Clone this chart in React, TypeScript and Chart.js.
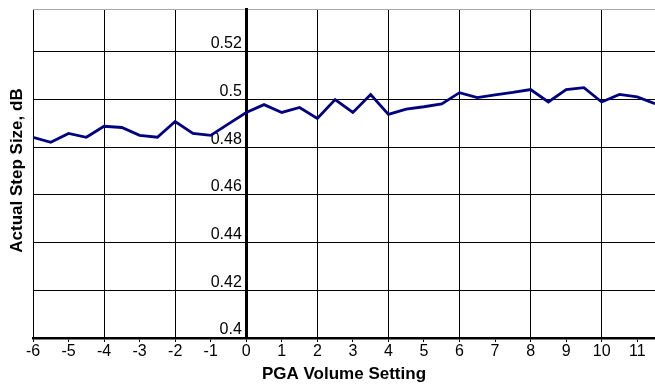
import React, { useEffect, useRef } from "react";
import { Chart, registerables } from "chart.js";

Chart.register(...registerables);

const volumeSettings = [
  -6, -5.5, -5, -4.5, -4, -3.5, -3, -2.5, -2, -1.5, -1, -0.5, 0, 0.5, 1, 1.5, 2, 2.5,
  3, 3.5, 4, 4.5, 5, 5.5, 6, 6.5, 7, 7.5, 8, 8.5, 9, 9.5, 10, 10.5, 11, 11.5,
];
const stepSizes = [
  0.4842, 0.4821, 0.4858, 0.4842, 0.4888, 0.4883, 0.485, 0.4842, 0.4908, 0.4858, 0.485, 0.4898,
  0.4946, 0.4979, 0.4946, 0.4967, 0.4921, 0.5, 0.4946, 0.5021, 0.4938, 0.496, 0.497, 0.4982,
  0.5029, 0.5008, 0.502, 0.503, 0.5042, 0.499, 0.5042, 0.505, 0.499, 0.5022, 0.5011, 0.4983,
];
const xTicks = [-6, -5, -4, -3, -2, -1, 0, 1, 2, 3, 4, 5, 6, 7, 8, 9, 10, 11];
const yTicks = [0.4, 0.42, 0.44, 0.46, 0.48, 0.5, 0.52];
const X_MIN = -6;
const X_MAX = 11.5;
const Y_MIN = 0.4;
const Y_MAX = 0.538;
const xTitle = "PGA Volume Setting";
const yTitle = "Actual Step Size, dB";

const FONT = "'Liberation Sans', Arial, sans-serif";

const yTitlePlugin = {
  id: "yTitlePlugin",
  afterDraw(chart: any) {
    const { ctx, chartArea } = chart;
    ctx.save();
    ctx.font = `bold 17px ${FONT}`;
    ctx.fillStyle = "#000";
    ctx.textAlign = "center";
    ctx.textBaseline = "middle";
    ctx.translate(17, (chartArea.top + chartArea.bottom) / 2 - 3);
    ctx.rotate(-Math.PI / 2);
    ctx.fillText(yTitle, 0, 0);
    ctx.restore();
  },
};

export default function App() {
  const ref = useRef<HTMLCanvasElement | null>(null);
  useEffect(() => {
    if (!ref.current) return;
    Chart.defaults.font.family = FONT;
    const chart = new Chart(ref.current, {
      type: "line",
      data: {
        datasets: [
          {
            data: volumeSettings.map((x, i) => ({ x, y: stepSizes[i] })),
            borderColor: "#000080",
            borderWidth: 2.8,
            pointRadius: 0,
            tension: 0,
            fill: false,
          },
        ],
      },
      options: {
        animation: false,
        responsive: false,
        maintainAspectRatio: false,
        layout: { padding: { left: 33, top: 9, right: 0, bottom: 0 } },
        plugins: { legend: { display: false }, tooltip: { enabled: false } },
        scales: {
          x: {
            type: "linear",
            position: "bottom",
            min: X_MIN,
            max: X_MAX,
            afterBuildTicks: (scale: any) => {
              scale.ticks = xTicks.map((v) => ({ value: v }));
            },
            afterFit: (scale: any) => {
              scale.height = 47;
              scale.paddingLeft = 0;
              scale.paddingRight = 0;
            },
            ticks: {
              autoSkip: false,
              maxRotation: 0,
              padding: 0,
              color: "#000",
              font: { size: 16, family: FONT },
              callback: (v: any) => String(v),
            },
            grid: {
              color: (c: any) =>
                c.tick && Math.round(c.tick.value) % 2 === 0 ? "#000" : "rgba(0,0,0,0)",
              lineWidth: 1,
              tickColor: "#000",
              tickLength: 4,
              drawTicks: true,
            },
            border: { display: true, color: "#000", width: 2.5 },
            title: {
              display: true,
              text: xTitle,
              color: "#000",
              font: { size: 17, weight: "bold", family: FONT },
              padding: { top: 0, bottom: 0 },
            },
          },
          y: {
            type: "linear",
            position: { x: 0 } as any,
            min: Y_MIN,
            max: Y_MAX,
            afterBuildTicks: (scale: any) => {
              scale.ticks = [...yTicks, Y_MAX].map((v) => ({ value: v }));
            },
            afterFit: (scale: any) => {
              scale.paddingTop = 0;
              scale.paddingBottom = 0;
            },
            ticks: {
              padding: 0,
              labelOffset: -8,
              color: "#000",
              font: { size: 16, family: FONT },
              callback: (v: any) =>
                Math.abs(v - Y_MAX) < 1e-9 ? "" : String(Math.round(v * 100) / 100) + " ",
            },
            grid: {
              color: (c: any) =>
                c.tick && Math.abs(c.tick.value - Y_MAX) < 1e-9 ? "#aaa" : "#000",
              lineWidth: 1,
              drawTicks: false,
            },
            border: { display: true, color: "#000", width: 3 },
          },
        },
      },
      plugins: [yTitlePlugin],
    } as any);
    return () => chart.destroy();
  }, []);
  return (
    <div style={{ position: "fixed", left: 0, top: 0, width: 655, height: 385, background: "#fff" }}>
      <canvas ref={ref} width={655} height={385} style={{ width: 655, height: 385, display: "block" }} />
    </div>
  );
}
